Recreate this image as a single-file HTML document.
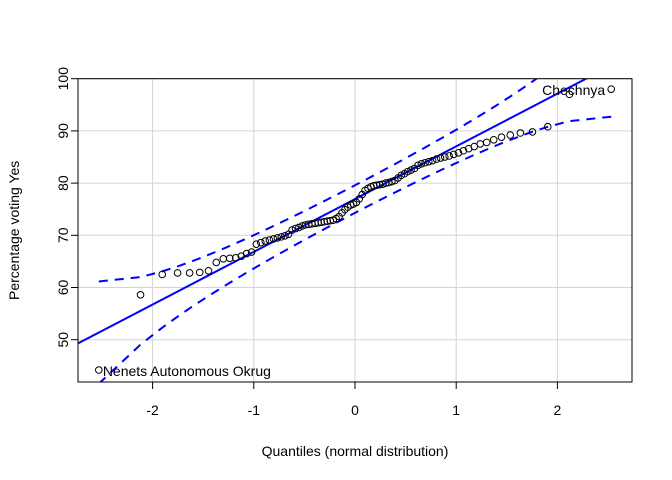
<!DOCTYPE html>
<html><head><meta charset="utf-8"><style>
body{margin:0;background:#fff}
svg{display:block;font-family:"Liberation Sans",Arial,sans-serif}
</style></head><body>
<svg id="chart" width="672" height="480" viewBox="0 0 672 480" xmlns="http://www.w3.org/2000/svg"></svg>
<script>
const values = [44.2,58.6,62.5,62.8,62.8,62.9,63.2,64.8,65.5,65.6,65.7,66.0,66.5,66.8,68.3,68.6,68.9,69.1,69.3,69.5,69.7,69.9,70.2,71.0,71.3,71.5,71.8,72.0,72.1,72.2,72.3,72.4,72.5,72.6,72.7,72.8,72.9,73.2,73.6,74.3,74.9,75.4,75.8,76.0,
76.3,77.0,77.8,78.6,79.0,79.3,79.5,79.6,79.7,79.8,80.0,80.1,80.3,80.5,81.0,81.5,81.8,82.2,82.5,82.8,83.4,83.7,83.9,84.1,84.3,84.6,84.8,85.0,85.2,85.5,85.8,86.2,86.6,87.0,87.5,87.8,88.3,88.8,89.2,89.6,89.8,90.8,97.0,98.0];
const xTicks = [-2,-1,0,1,2];
const yTicks = [50,60,70,80,90,100];
const labelNames = ["Nenets Autonomous Okrug","Chechnya"];
const labelIdx = [0, values.length-2];

const NS="http://www.w3.org/2000/svg";
const svg=document.getElementById('chart');
const L=78,R=632,T=78.7,B=382;
const xMin=-2.737,xMax=2.737,yMin=41.9,yMax=100;
const sx=z=>L+(z-xMin)/(xMax-xMin)*(R-L);
const sy=v=>B-(v-yMin)/(yMax-yMin)*(B-T);
function el(tag,attrs,parent){const e=document.createElementNS(NS,tag);for(const k in attrs)e.setAttribute(k,attrs[k]);(parent||svg).appendChild(e);return e;}
function qnorm(p){const a=[-39.69683028665376,220.9460984245205,-275.9285104469687,138.357751867269,-30.66479806614716,2.506628277459239],b=[-54.47609879822406,161.5858368580409,-155.6989798598866,66.80131188771972,-13.28068155288572],c=[-0.007784894002430293,-0.3223964580411365,-2.400758277161838,-2.549732539343734,4.374664141464968,2.938163982698783],d=[0.007784695709041462,0.3224671290700398,2.445134137142996,3.754408661907416];let q,r;if(p<0.02425){q=Math.sqrt(-2*Math.log(p));return(((((c[0]*q+c[1])*q+c[2])*q+c[3])*q+c[4])*q+c[5])/((((d[0]*q+d[1])*q+d[2])*q+d[3])*q+1);}if(p>1-0.02425){q=Math.sqrt(-2*Math.log(1-p));return-(((((c[0]*q+c[1])*q+c[2])*q+c[3])*q+c[4])*q+c[5])/((((d[0]*q+d[1])*q+d[2])*q+d[3])*q+1);}q=p-0.5;r=q*q;return(((((a[0]*r+a[1])*r+a[2])*r+a[3])*r+a[4])*r+a[5])*q/(((((b[0]*r+b[1])*r+b[2])*r+b[3])*r+b[4])*r+1);}
const n=values.length;
const sorted=values.slice().sort((a,b)=>a-b);
const P=sorted.map((v,i)=>(i+0.5)/n);
const Z=P.map(qnorm);
function quant(p){const h=(n-1)*p,lo=Math.floor(h);return sorted[lo]+(h-lo)*(sorted[Math.min(lo+1,n-1)]-sorted[lo]);}
const q1=quant(0.25),q3=quant(0.75);
const slope=(q3-q1)/(qnorm(0.75)-qnorm(0.25));
const intc=q1-slope*qnorm(0.25);

// grid
const grid=el('g',{});


xTicks.forEach(t=>el('line',{x1:sx(t),x2:sx(t),y1:T,y2:B,stroke:'#d3d3d3','stroke-width':1},grid));
yTicks.forEach(t=>el('line',{x1:L,x2:R,y1:sy(t),y2:sy(t),stroke:'#d3d3d3','stroke-width':1},grid));

// clip
const defs=el('defs',{});const cp=el('clipPath',{id:'clip'},defs);el('rect',{x:L,y:T,width:R-L,height:B-T},cp);
const plot=el('g',{'clip-path':'url(#clip)'});



// reference line
const ref=el('line',{x1:sx(xMin),y1:sy(intc+slope*xMin),x2:sx(xMax),y2:sy(intc+slope*xMax),stroke:'#0000ff','stroke-width':2},plot);



// envelope
const up=[],lo=[];
Z.forEach((z,i)=>{const se=(slope/Math.exp(-z*z/2)*Math.sqrt(2*Math.PI))*Math.sqrt(P[i]*(1-P[i])/n);const f=intc+slope*z;up.push(sx(z)+','+sy(f+1.96*se));lo.push(sx(z)+','+sy(f-1.96*se));});
const eu=el('polyline',{points:up.join(' '),fill:'none',stroke:'#0000ff','stroke-width':2,'stroke-dasharray':'9,7'},plot);


const elo=el('polyline',{points:lo.join(' '),fill:'none',stroke:'#0000ff','stroke-width':2,'stroke-dasharray':'9,7'},plot);



// points
const pts=el('g',{},plot);


sorted.forEach((v,i)=>{const c=el('circle',{cx:sx(Z[i]),cy:sy(v),r:3.3,fill:'none',stroke:'#000','stroke-width':1},pts);

});

// point labels
const l1=el('text',{x:sx(Z[labelIdx[0]])+4,y:sy(sorted[labelIdx[0]])+6,'font-size':14,fill:'#000'});
l1.textContent=labelNames[0];


const l2=el('text',{x:sx(Z[n-1])-6,y:sy(sorted[n-1])+6,'font-size':14,fill:'#000','text-anchor':'end'});
l2.textContent=labelNames[1];



// box
const box=el('rect',{x:L,y:T,width:R-L,height:B-T,fill:'none',stroke:'#000','stroke-width':1});



// axes
const xa=el('g',{});


xTicks.forEach(t=>{el('line',{x1:sx(t),x2:sx(t),y1:B,y2:B+7,stroke:'#000'},xa);const tx=el('text',{x:sx(t),y:B+33,'font-size':14,'text-anchor':'middle',fill:'#000'},xa);tx.textContent=t;});
const ya=el('g',{});


yTicks.forEach(t=>{el('line',{x1:L-7,x2:L,y1:sy(t),y2:sy(t),stroke:'#000'},ya);const tx=el('text',{x:0,y:0,'font-size':14,'text-anchor':'middle',fill:'#000',transform:`translate(${L-10},${sy(t)}) rotate(-90)`},ya);tx.textContent=t;});

const xt=el('text',{x:(L+R)/2,y:456,'font-size':14,'text-anchor':'middle',fill:'#000'});
xt.textContent='Quantiles (normal distribution)';


const yt=el('text',{x:0,y:0,'font-size':14,'text-anchor':'middle',fill:'#000',transform:`translate(19,${(T+B)/2}) rotate(-90)`});
yt.textContent='Percentage voting Yes';


</script>
</body></html>
